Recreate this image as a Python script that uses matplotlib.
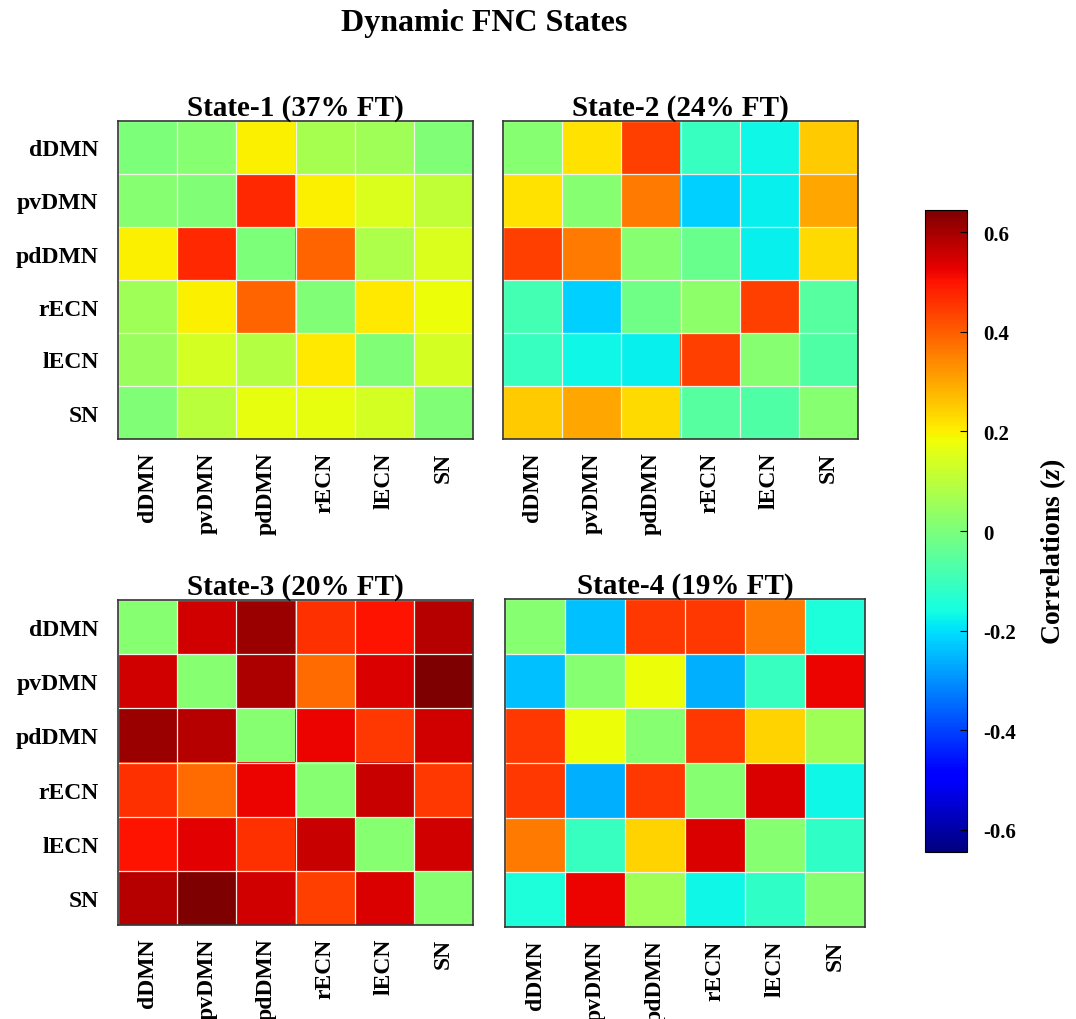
import numpy as np
import matplotlib
matplotlib.use('Agg')
import matplotlib.pyplot as plt

plt.rcParams['font.family'] = ['Liberation Serif', 'DejaVu Serif']
plt.rcParams['font.weight'] = 'bold'
plt.rcParams['mathtext.fontset'] = 'custom'
plt.rcParams['mathtext.it'] = 'Liberation Serif:italic:bold'
plt.rcParams['mathtext.rm'] = 'Liberation Serif:bold'

networks = ['dDMN', 'pvDMN', 'pdDMN', 'rECN', 'lECN', 'SN']
titles = ['State-1 (37% FT)', 'State-2 (24% FT)', 'State-3 (20% FT)', 'State-4 (19% FT)']

state1 = [[0.00, 0.02, 0.20, 0.07, 0.06, 0.01],
          [0.02, 0.01, 0.47, 0.20, 0.15, 0.11],
          [0.20, 0.47, 0.00, 0.39, 0.08, 0.15],
          [0.06, 0.20, 0.39, 0.01, 0.21, 0.18],
          [0.05, 0.14, 0.09, 0.21, 0.01, 0.14],
          [0.01, 0.10, 0.17, 0.17, 0.14, 0.01]]

state2 = [[0.02, 0.22, 0.44, -0.11, -0.17, 0.25],
          [0.22, 0.02, 0.36, -0.22, -0.18, 0.30],
          [0.44, 0.36, 0.02, -0.03, -0.18, 0.23],
          [-0.09, -0.22, -0.02, 0.03, 0.44, -0.06],
          [-0.11, -0.17, -0.18, 0.44, 0.02, -0.07],
          [0.25, 0.30, 0.23, -0.06, -0.07, 0.02]]

state3 = [[0.02, 0.55, 0.61, 0.46, 0.50, 0.58],
          [0.55, 0.02, 0.59, 0.38, 0.54, 0.64],
          [0.61, 0.58, 0.02, 0.52, 0.45, 0.55],
          [0.46, 0.38, 0.52, 0.02, 0.56, 0.45],
          [0.50, 0.53, 0.46, 0.56, 0.02, 0.55],
          [0.58, 0.64, 0.55, 0.44, 0.54, 0.02]]

state4 = [[0.02, -0.24, 0.45, 0.45, 0.36, -0.15],
          [-0.24, 0.02, 0.18, -0.26, -0.11, 0.52],
          [0.45, 0.18, 0.02, 0.45, 0.24, 0.06],
          [0.45, -0.26, 0.45, 0.02, 0.54, -0.17],
          [0.36, -0.11, 0.24, 0.54, 0.02, -0.12],
          [-0.15, 0.52, 0.06, -0.17, -0.12, 0.02]]

cbar_ticks = [-0.6, -0.4, -0.2, 0, 0.2, 0.4, 0.6]
cbar_labels = ['-0.6', '-0.4', '-0.2', '0', '0.2', '0.4', '0.6']

W, H = 1076, 1020
fig = plt.figure(figsize=(W / 100, H / 100), dpi=100)

boxes = [(118, 122, 355, 318), (503, 122, 355, 318),
         (118, 601, 355, 325), (505, 600, 360, 328)]

for k, data in enumerate([state1, state2, state3, state4]):
    x0, y0, w, h = boxes[k]
    ax = fig.add_axes([x0 / W, 1 - (y0 + h) / H, w / W, h / H])
    im = ax.imshow(np.array(data), cmap='jet', vmin=-0.645, vmax=0.645,
                   aspect='auto', interpolation='nearest')
    ax.set_xticks(range(6))
    ax.set_yticks(range(6))
    ax.set_xticklabels(networks, rotation=90, fontsize=17, fontweight='bold')
    if k % 2 == 0:
        ax.set_yticklabels(networks, fontsize=17, fontweight='bold')
    else:
        ax.set_yticklabels([])
    ax.tick_params(length=0)
    ax.tick_params(axis='x', pad=9)
    ax.tick_params(axis='y', pad=14)
    ax.set_xticks(np.arange(-0.5, 6, 1), minor=True)
    ax.set_yticks(np.arange(-0.5, 6, 1), minor=True)
    ax.grid(which='minor', color='#f2f2e6', linewidth=0.9)
    ax.tick_params(which='minor', length=0)
    for s in ax.spines.values():
        s.set_color('#333333')
        s.set_linewidth(1.2)
    ax.set_title(titles[k], fontsize=21, fontweight='bold', pad=2)

cax = fig.add_axes([925 / W, 1 - 853 / H, 42 / W, 642 / H])
cb = fig.colorbar(im, cax=cax, ticks=cbar_ticks)
cb.ax.set_yticklabels(cbar_labels, fontsize=15, fontweight='bold')
cb.ax.tick_params(direction='in', length=5, pad=12)
cb.outline.set_linewidth(0.8)
cb.set_label(r'Correlations ($z$)', fontsize=20, fontweight='bold', labelpad=16)
cb.ax.yaxis.set_label_coords(2.7, 0.47)

fig.text(484 / W, 1 - 24 / H, 'Dynamic FNC States', fontsize=23,
         fontweight='bold', ha='center', va='center')

fig.savefig('out.png', dpi=100)
